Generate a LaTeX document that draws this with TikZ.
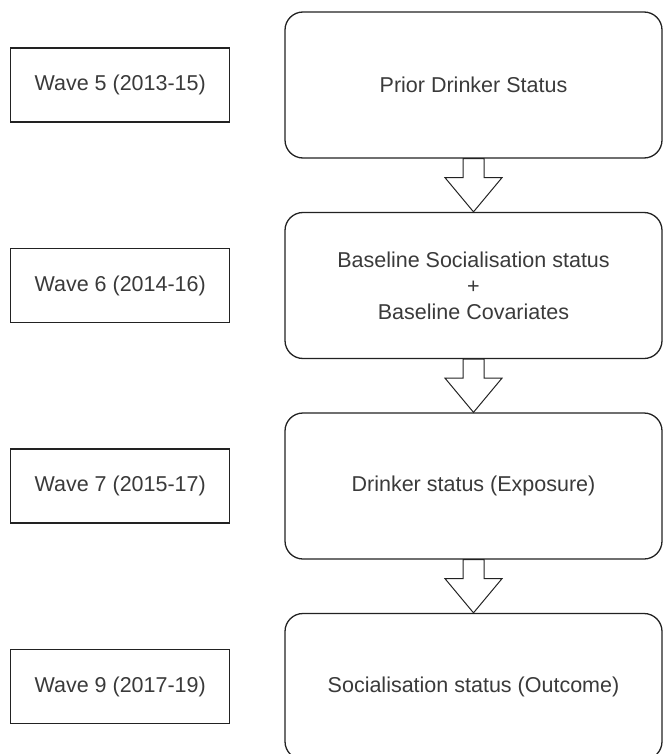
\documentclass[tikz,border=0pt]{standalone}
\usepackage{fontspec}
\setmainfont{Liberation Sans}
\usetikzlibrary{positioning,calc}

\definecolor{txtgray}{HTML}{3A3A3A}
\definecolor{linegray}{HTML}{222222}

\tikzset{
  wavebox/.style={draw=linegray, line width=1.3pt, minimum width=219pt, minimum height=74pt,
    text=txtgray, font=\fontsize{21.5}{26}\selectfont},
  stagebox/.style={draw=linegray, line width=1.3pt, rounded corners=18pt, minimum width=377pt,
    minimum height=146pt, align=center, text=txtgray, font=\fontsize{21.5}{26}\selectfont},
  blockarrow/.style={draw=linegray, line width=1pt, fill=white, line join=miter}
}

% hollow down arrow from one stage to the next
\newcommand{\flowarrow}[2]{%
  \draw[blockarrow] ($(#1.south)+(-10.5,0)$) -- ++(0,19) -- ++(-18,0) -- (#2.north)
    -- ($(#1.south)+(28.5,19)$) -- ++(-18,0) -- ($(#1.south)+(10.5,0)$) -- cycle;}

\begin{document}
\begin{tikzpicture}[x=1pt,y=-1pt]
\path[use as bounding box, clip] (0,0) rectangle (664,754);

	%stages
	\node[stagebox] (prior) at (473.5,85) {Prior Drinker Status};
	\node[stagebox, below=53.2pt of prior] (baseline) {Baseline Socialisation status\\+\\Baseline Covariates};
	\node[stagebox, below=53.2pt of baseline] (exposure) {Drinker status (Exposure)};
	\node[stagebox, below=53.2pt of exposure] (outcome) {Socialisation status (Outcome)};

	%waves
	\node[wavebox, left=54pt of prior] (wave5) {Wave 5 (2013-15)};
	\node[wavebox, left=54pt of baseline] (wave6) {Wave 6 (2014-16)};
	\node[wavebox, left=54pt of exposure] (wave7) {Wave 7 (2015-17)};
	\node[wavebox, left=54pt of outcome] (wave9) {Wave 9 (2017-19)};

	%arrows
	\flowarrow{prior}{baseline}
	\flowarrow{baseline}{exposure}
	\flowarrow{exposure}{outcome}
\end{tikzpicture}
\end{document}
